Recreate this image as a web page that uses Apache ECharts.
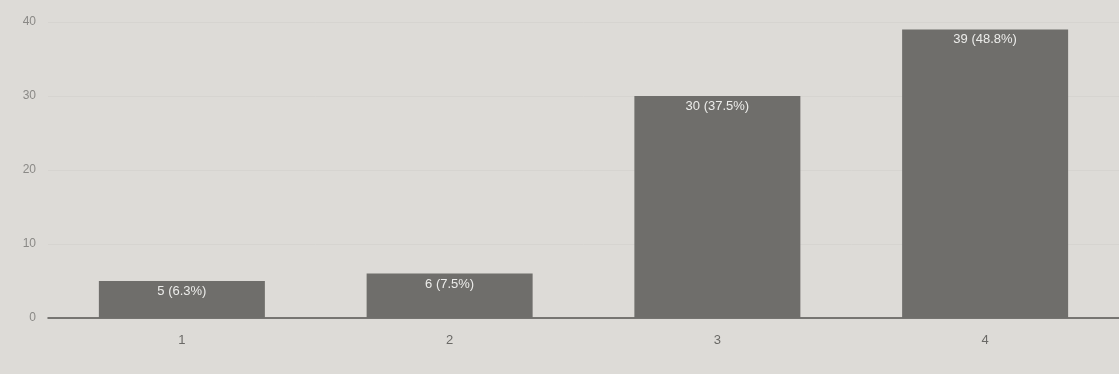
<!DOCTYPE html>
<html>
<head>
<meta charset="utf-8">
<script src="https://cdn.jsdelivr.net/npm/echarts@6/dist/echarts.min.js"></script>
<style>
html,body{margin:0;padding:0;background:#dddbd7;}
#chart{width:1119px;height:374px;}
</style>
</head>
<body>
<div id="chart"></div>
<script>
const categories = ['1', '2', '3', '4'];
const counts = [5, 6, 30, 39];
const percents = ['6.3%', '7.5%', '37.5%', '48.8%'];
const yTicks = [0, 10, 20, 30, 40];

const chart = echarts.init(document.getElementById('chart'));
chart.setOption({
  backgroundColor: '#dddbd7',
  animation: false,
  grid: { left: 48, right: 0, top: 22, bottom: 56 },
  xAxis: {
    type: 'category',
    data: categories,
    axisLine: { lineStyle: { color: '#555452', width: 1.5 } },
    axisTick: { show: false },
    axisLabel: { color: '#6a6966', fontSize: 13, fontFamily: 'Arial, Liberation Sans', margin: 16 }
  },
  yAxis: {
    type: 'value',
    min: yTicks[0],
    max: yTicks[yTicks.length - 1],
    interval: 10,
    axisLine: { show: false },
    axisTick: { show: false },
    splitLine: { lineStyle: { color: '#d6d4d0', width: 1 } },
    axisLabel: { color: '#8a8986', fontSize: 12, fontFamily: 'Arial, Liberation Sans', margin: 12 }
  },
  series: [{
    type: 'bar',
    data: counts,
    barWidth: '62%',
    itemStyle: { color: '#6f6e6b' },
    label: {
      show: true,
      position: 'insideTop',
      distance: 4,
      color: '#ececea',
      fontSize: 13,
      fontFamily: 'Arial, Liberation Sans',
      formatter: p => counts[p.dataIndex] + ' (' + percents[p.dataIndex] + ')'
    }
  }]
});
</script>
</body>
</html>
